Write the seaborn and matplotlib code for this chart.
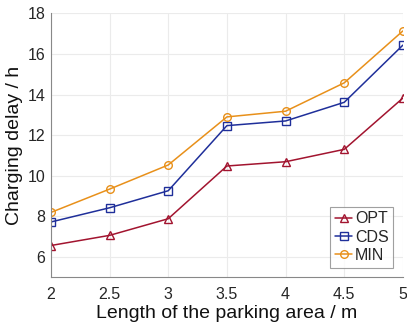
import matplotlib
matplotlib.use("Agg")
import matplotlib.pyplot as plt
import seaborn as sns
import pandas as pd

# data
lengths = [2, 2.5, 3, 3.5, 4, 4.5, 5]
opt_delay = [6.56, 7.06, 7.88, 10.48, 10.69, 11.30, 13.83]
cds_delay = [7.72, 8.42, 9.26, 12.47, 12.70, 13.62, 16.44]
min_delay = [8.19, 9.34, 10.53, 12.90, 13.18, 14.58, 17.14]

x_ticks = [2, 2.5, 3, 3.5, 4, 4.5, 5]
x_tick_labels = ["2", "2.5", "3", "3.5", "4", "4.5", "5"]
y_ticks = [6, 8, 10, 12, 14, 16, 18]

series = [
    ("OPT", opt_delay, "#A2142F", "^"),
    ("CDS", cds_delay, "#1F2F9A", "s"),
    ("MIN", min_delay, "#E8901A", "o"),
]

sns.set_style("white")
plt.rcParams["font.family"] = ["Liberation Sans", "DejaVu Sans"]

fig = plt.figure(figsize=(4.07, 3.28), dpi=100)
ax = fig.add_axes([0.125, 0.155, 0.865, 0.804])

for name, vals, color, marker in series:
    df = pd.DataFrame({"length": lengths, "delay": vals})
    sns.lineplot(data=df, x="length", y="delay", ax=ax, color=color,
                 marker=marker, markersize=5.5, mfc="none", mec=color, mew=1.0,
                 linewidth=1.1, label=name)

ax.set_xlim(2, 5)
ax.set_ylim(5, 18)
ax.set_xticks(x_ticks)
ax.set_xticklabels(x_tick_labels)
ax.set_yticks(y_ticks)
ax.grid(True, color="#ebebeb", linewidth=0.8)
ax.set_axisbelow(True)
ax.tick_params(axis="both", labelsize=11.5, direction="in", length=4,
               width=0.8, color="#888888", labelcolor="#262626")
ax.tick_params(axis="x", pad=7)
ax.tick_params(axis="y", pad=4)

for side in ["top", "right"]:
    ax.spines[side].set_visible(False)
for side in ["left", "bottom"]:
    ax.spines[side].set_color("#888888")
    ax.spines[side].set_linewidth(0.8)

ax.set_xlabel("Length of the parking area / m", fontsize=14, color="#111111", labelpad=2)
ax.set_ylabel("Charging delay / h", fontsize=14, color="#111111", labelpad=3)

leg = ax.legend(loc="lower right", fontsize=11.5, frameon=True, fancybox=False,
                edgecolor="#888888", handlelength=1.1, handletextpad=0.15,
                borderpad=0.3, labelspacing=0.2, borderaxespad=0.6)
leg.get_frame().set_linewidth(0.8)

fig.savefig("out.png", dpi=100)
